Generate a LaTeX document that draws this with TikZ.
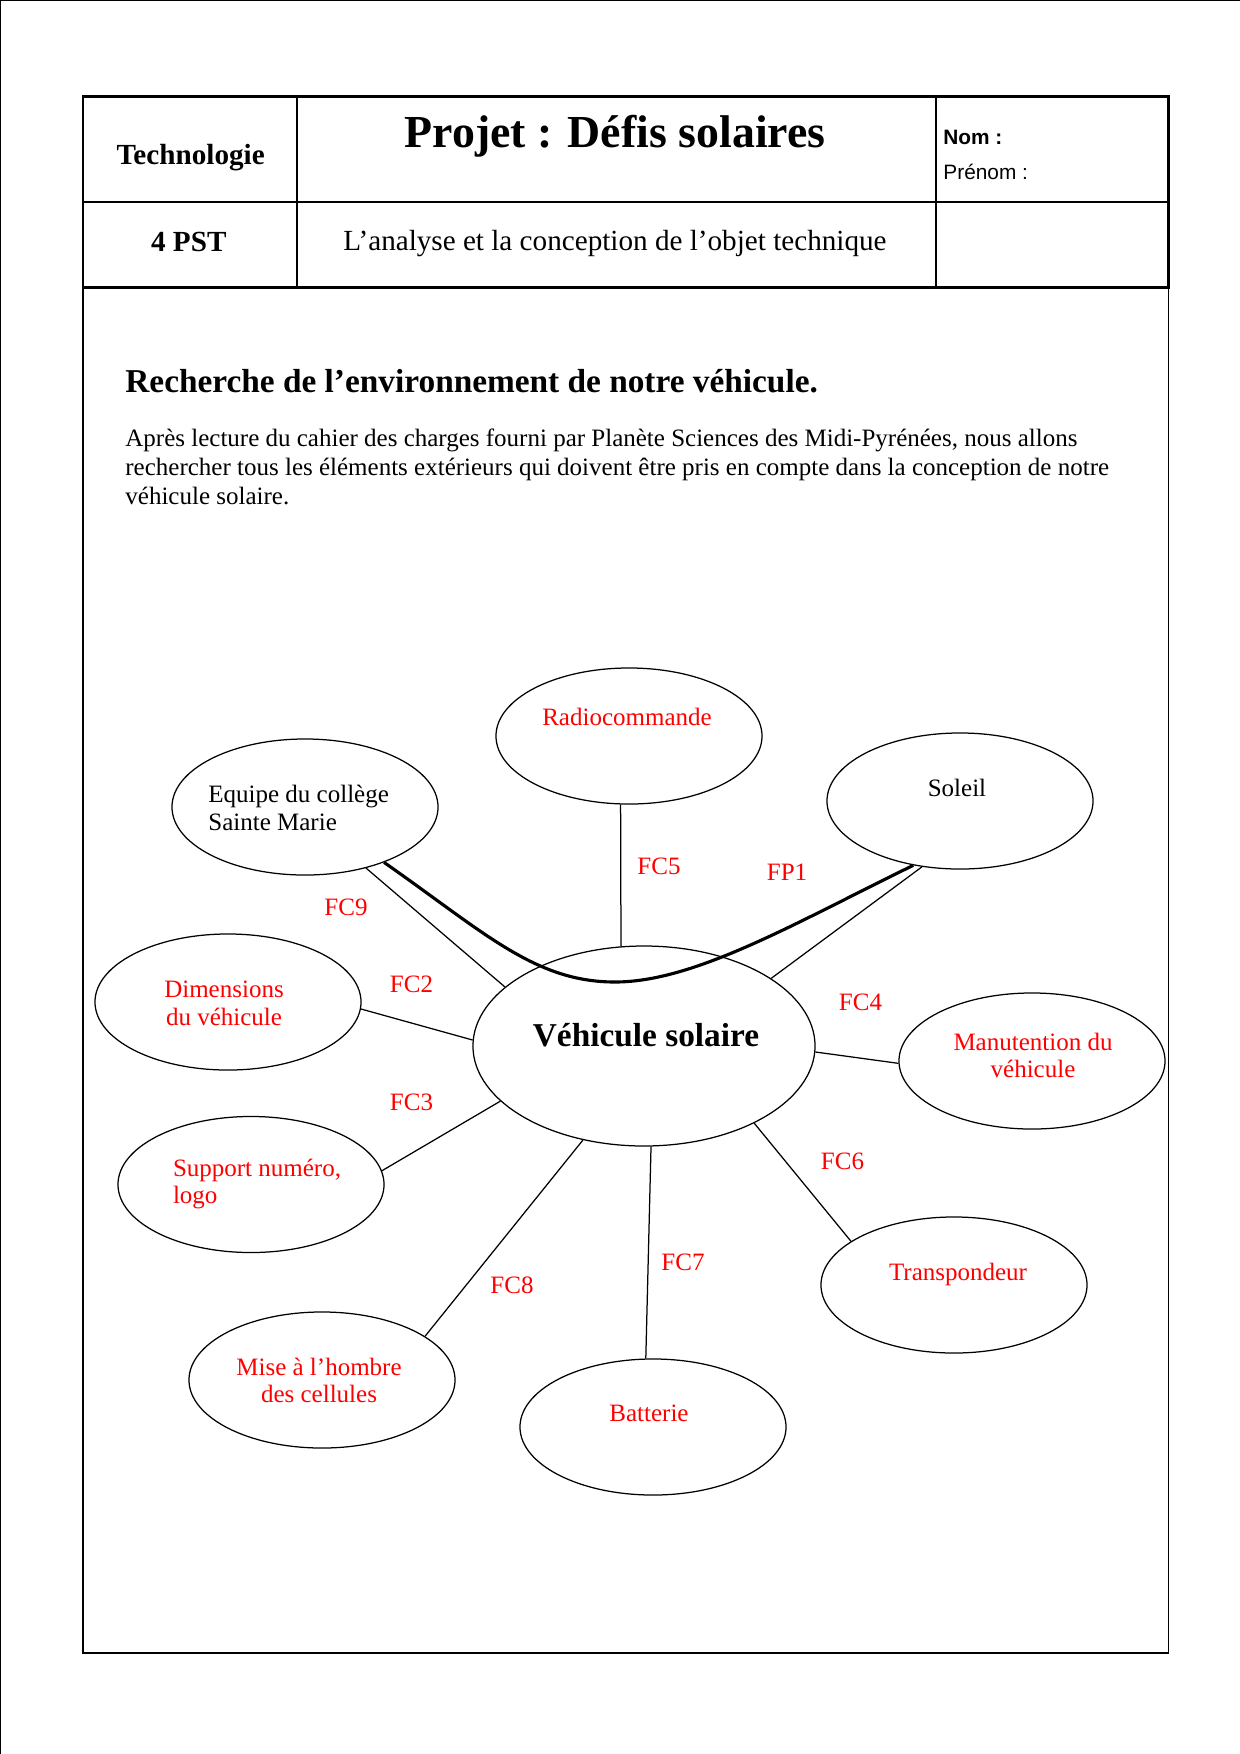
\documentclass[tikz,border=0pt]{standalone}
\usepackage{fontspec}
\setmainfont{Liberation Serif}
\newfontfamily\arialf{Liberation Sans}
\usetikzlibrary{shapes.geometric}
\tikzset{
  elli/.style={draw, ellipse, line width=0.6pt, minimum width=127.7pt, minimum height=65.3pt, inner sep=0pt},
  conn/.style={line width=0.6pt},
  thickconn/.style={line width=1.5pt},
  tbl/.style={line width=1.1pt},
  frame/.style={line width=0.8pt},
  txt/.style={inner sep=0pt, font=\fontsize{12}{13.3}\selectfont},
  rtxt/.style={txt, text=red},
  fclbl/.style={rtxt, anchor=base},
}
\begin{document}
\begin{tikzpicture}[x=0.48pt,y=-0.48pt]
\useasboundingbox (0,0) rectangle (1240,1754);
% page border
\draw[line width=0.5pt] (0.8,1754) -- (0.8,0.8) -- (1240,0.8);
% header table
\draw[tbl] (83,96.5) rectangle (1168.5,287.5);
\draw[tbl] (83,202) -- (1168.5,202);
\draw[tbl] (296.7,96.5) -- (296.7,287.5);
\draw[tbl] (936,96.5) -- (936,287.5);
\draw[frame] (83,287.5) -- (83,1653) -- (1168.5,1653) -- (1168.5,287.5);
\node[anchor=base, inner sep=0pt, font=\fontsize{14}{16}\selectfont\bfseries] (techno) at (190.7,164) {Technologie};
\node[anchor=base, inner sep=0pt, font=\fontsize{22}{25}\selectfont\bfseries] (titre) at (615,147.7) {Projet : Défis solaires};
\node[anchor=base west, inner sep=0pt, font=\arialf\fontsize{10}{12}\selectfont\bfseries] (nom) at (943,144) {Nom :};
\node[anchor=base west, inner sep=0pt, font=\arialf\fontsize{10}{12}\selectfont] (prenom) at (943,179) {Prénom :};
\node[anchor=base, inner sep=0pt, font=\fontsize{14}{16}\selectfont\bfseries] (classe) at (188.8,251.7) {4 PST};
\node[anchor=base, inner sep=0pt, font=\fontsize{14}{16}\selectfont] (sujet) at (615,250.7) {L’analyse et la conception de l’objet technique};
% heading and paragraph
\node[anchor=base west, inner sep=0pt, font=\fontsize{16}{18}\selectfont\bfseries] (rech) at (125,392) {Recherche de l’environnement de notre véhicule.};
\node[txt, anchor=base west] (p1) at (125,446) {Après lecture du cahier des charges fourni par Planète Sciences des Midi-Pyrénées, nous allons};
\node[txt, anchor=base west] (p2) at (125,475) {rechercher tous les éléments extérieurs qui doivent être pris en compte dans la conception de notre};
\node[txt, anchor=base west] (p3) at (125,504) {véhicule solaire.};
% ellipses
\node[draw, ellipse, line width=0.6pt, minimum width=164.2pt, minimum height=96pt, inner sep=0pt] (veh) at (644,1046) {};
\node[elli] (equipe) at (305,807) {};
\node[elli] (radio) at (629,736) {};
\node[elli] (soleil) at (960,801) {};
\node[elli] (dim) at (228,1002) {};
\node[elli] (manu) at (1032,1061) {};
\node[elli] (supp) at (251,1184.5) {};
\node[elli] (mise) at (322,1380) {};
\node[elli] (batt) at (653,1427) {};
\node[elli] (transp) at (954,1285) {};
% ellipse texts
\node[anchor=base, inner sep=0pt, font=\fontsize{16}{18}\selectfont\bfseries] (vehT) at (646,1046) {Véhicule solaire};
\node[txt, anchor=base west] (equipeT1) at (208,802.5) {Equipe du collège};
\node[txt, anchor=base west] (equipeT2) at (208,830) {Sainte Marie};
\node[rtxt, anchor=base] (radioT) at (627,725.7) {Radiocommande};
\node[txt, anchor=base] (soleilT) at (957,796.7) {Soleil};
\node[rtxt, anchor=base] (dimT1) at (224,997) {Dimensions};
\node[rtxt, anchor=base] (dimT2) at (224,1025) {du véhicule};
\node[rtxt, anchor=base] (manuT1) at (1033,1050) {Manutention du};
\node[rtxt, anchor=base] (manuT2) at (1033,1077) {véhicule};
\node[rtxt, anchor=base west] (suppT1) at (172.6,1176) {Support numéro,};
\node[rtxt, anchor=base west] (suppT2) at (172.6,1203) {logo};
\node[rtxt, anchor=base] (transpT) at (958,1280) {Transpondeur};
\node[rtxt, anchor=base] (miseT1) at (319,1375) {Mise à l’hombre};
\node[rtxt, anchor=base] (miseT2) at (319,1402.7) {des cellules};
\node[rtxt, anchor=base] (battT) at (649,1421.7) {Batterie};
% connectors
\draw[conn] (equipe.-45) -- (veh.157.4);
\draw[conn] (radio.263.3) -- (veh.103.1);
\draw[conn] (soleil.240.7) -- (veh.28.5);
\draw[conn] (dim.-3.5) -- (veh.178);
\draw[conn] (veh.-2.2) -- (manu.181.3);
\draw[conn] (supp.6.4) -- (veh.201);
\draw[conn] (veh.-35.8) -- (transp.157.1);
\draw[conn] (veh.-86.8) -- (batt.96.5);
\draw[conn] (veh.237.6) -- (mise.23.2);
\coordinate (creux) at (615,982);
\draw[thickconn] (equipe.-35) .. controls (485,933) and (535,982) .. (creux)
  .. controls (695,982) and (795,923) .. (soleil.234);
% function labels
\node[fclbl] (fc9) at (346,915) {FC9};
\node[fclbl] (fc5) at (659,874) {FC5};
\node[fclbl] (fp1) at (787,880) {FP1};
\node[fclbl] (fc2) at (411.5,992) {FC2};
\node[fclbl] (fc4) at (860.5,1010) {FC4};
\node[fclbl] (fc3) at (411.5,1110) {FC3};
\node[fclbl] (fc6) at (842.5,1169) {FC6};
\node[fclbl] (fc7) at (683,1270) {FC7};
\node[fclbl] (fc8) at (512,1293) {FC8};
\end{tikzpicture}
\end{document}
